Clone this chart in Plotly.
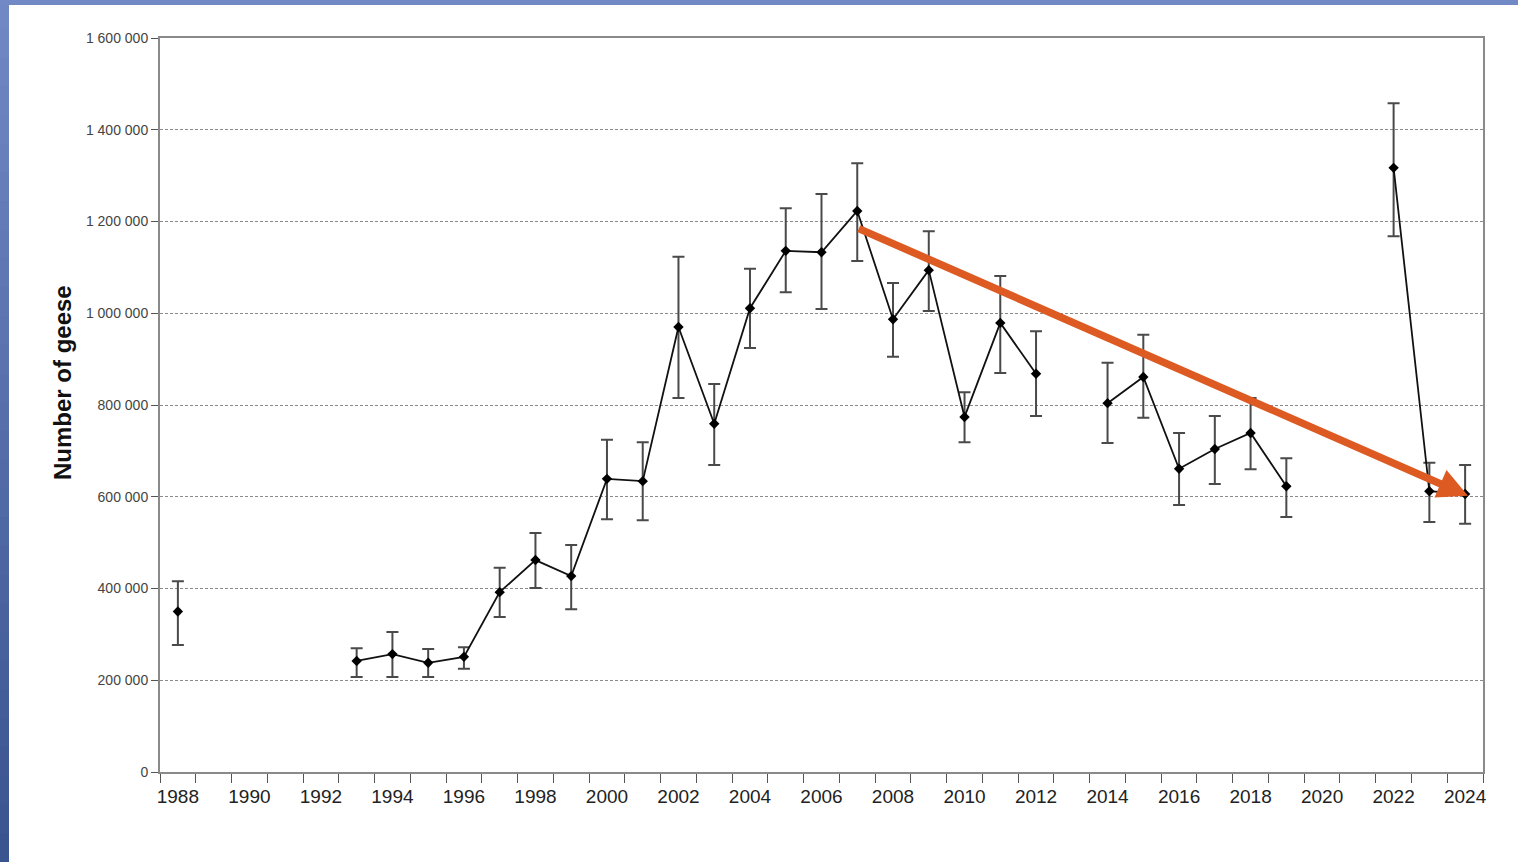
import plotly.graph_objects as go

years = list(range(1988, 2025))
# None = no count that year
geese = [350000, None, None, None, None, 242000, 257000, 238000, 251000, 392000,
         462000, 427000, 639000, 634000, 970000, 759000, 1011000, 1136000, 1133000, 1223000,
         987000, 1094000, 774000, 979000, 868000, None, 804000, 861000, 661000, 704000,
         739000, 623000, None, None, 1317000, 612000, 606000]
upper = [416000, None, None, None, None, 270000, 305000, 268000, 272000, 445000,
         521000, 495000, 724000, 719000, 1123000, 846000, 1097000, 1229000, 1260000, 1327000,
         1066000, 1179000, 828000, 1081000, 961000, None, 892000, 953000, 739000, 776000,
         815000, 684000, None, None, 1458000, 674000, 669000]
lower = [277000, None, None, None, None, 207000, 207000, 207000, 225000, 338000,
         401000, 355000, 551000, 549000, 815000, 669000, 924000, 1046000, 1009000, 1114000,
         905000, 1005000, 719000, 870000, 776000, None, 717000, 772000, 582000, 628000,
         660000, 556000, None, None, 1168000, 545000, 541000]

x_labels = [str(y) for y in range(1988, 2025, 2)]
y_ticks = [0, 200000, 400000, 600000, 800000, 1000000, 1200000, 1400000, 1600000]
y_labels = ["0", "200 000", "400 000", "600 000", "800 000", "1 000 000",
            "1 200 000", "1 400 000", "1 600 000"]
y_title = "Number of geese"

# trend arrow (tail year/value, head year/value)
trend_start = (2007, 1186000)
trend_end = (2024.08, 602000)

err_p = [None if g is None else u - g for g, u in zip(geese, upper)]
err_m = [None if g is None else g - l for g, l in zip(geese, lower)]

fig = go.Figure()
fig.add_trace(go.Scatter(
    x=years, y=geese, mode="lines+markers",
    line=dict(color="#111111", width=1.8),
    marker=dict(symbol="diamond", size=8, color="#000000"),
    error_y=dict(type="data", symmetric=False, array=err_p, arrayminus=err_m,
                 color="#4a4a4a", thickness=2, width=6),
    connectgaps=False, showlegend=False, hoverinfo="x+y",
))

# blue frame strips (left gradient + top)
L, R, T, B = 160, 35, 38, 90
W, H = 1518, 862
pw, ph = W - L - R, H - T - B
def px2x(p): return (p - L) / pw
def py2y(p): return 1 - (p - T) / ph

shapes = []
n = 30
c0 = (0x70, 0x88, 0xc4)
c1 = (0x3a, 0x54, 0x8f)
for i in range(n):
    t = i / (n - 1)
    c = tuple(int(round(a + (b - a) * t)) for a, b in zip(c0, c1))
    y0p = i * H / n
    y1p = (i + 1) * H / n + 1
    shapes.append(dict(type="rect", xref="paper", yref="paper",
                       x0=px2x(0), x1=px2x(9), y0=py2y(y1p), y1=py2y(y0p),
                       fillcolor="rgb(%d,%d,%d)" % c, line=dict(width=0), layer="above"))
shapes.append(dict(type="rect", xref="paper", yref="paper",
                   x0=px2x(0), x1=px2x(W), y0=py2y(5), y1=py2y(0),
                   fillcolor="#7189c4", line=dict(width=0), layer="above"))

fig.add_annotation(
    x=trend_end[0], y=trend_end[1], ax=trend_start[0], ay=trend_start[1],
    xref="x", yref="y", axref="x", ayref="y", text="", showarrow=True,
    arrowhead=2, arrowsize=0.8, arrowwidth=7.5, arrowcolor="#dd5a22", standoff=0,
)
# y-axis title (placed as in the original, slightly above centre)
fig.add_annotation(
    x=px2x(62), y=py2y(383), xref="paper", yref="paper", text="<b>%s</b>" % y_title,
    textangle=-90, showarrow=False, xanchor="center", yanchor="middle",
    font=dict(size=24, color="#111111"),
)

fig.update_layout(
    width=W, height=H,
    margin=dict(l=L, r=R, t=T, b=B),
    paper_bgcolor="white", plot_bgcolor="white",
    font=dict(family="Liberation Sans, Arial, sans-serif", color="#222222"),
    shapes=shapes,
    xaxis=dict(
        range=[1987.5, 2024.5], tickmode="array", tickvals=[int(v) for v in x_labels],
        ticktext=x_labels, ticks="", tickfont=dict(size=19, color="#222222"),
        ticklabelstandoff=6,
        showgrid=False, zeroline=False, showline=True, linecolor="#8a8a8a", linewidth=2,
        mirror=True,
        minor=dict(tickmode="linear", tick0=1987.5, dtick=1, ticks="outside",
                   ticklen=9, tickwidth=1.3, tickcolor="#555555", showgrid=False),
    ),
    yaxis=dict(
        range=[0, 1600000], tickmode="array", tickvals=y_ticks, ticktext=y_labels,
        ticks="outside", ticklen=7, tickwidth=1.3, tickcolor="#555555",
        tickfont=dict(size=14, color="#444444"),
        showgrid=True, gridcolor="#8a8a8a", gridwidth=1, griddash="3px,2px",
        zeroline=False, showline=True, linecolor="#8a8a8a", linewidth=2, mirror=True,
    ),
)

fig.write_html("out.html", config={"displayModeBar": False},
               post_script="document.body.style.margin='0';")
